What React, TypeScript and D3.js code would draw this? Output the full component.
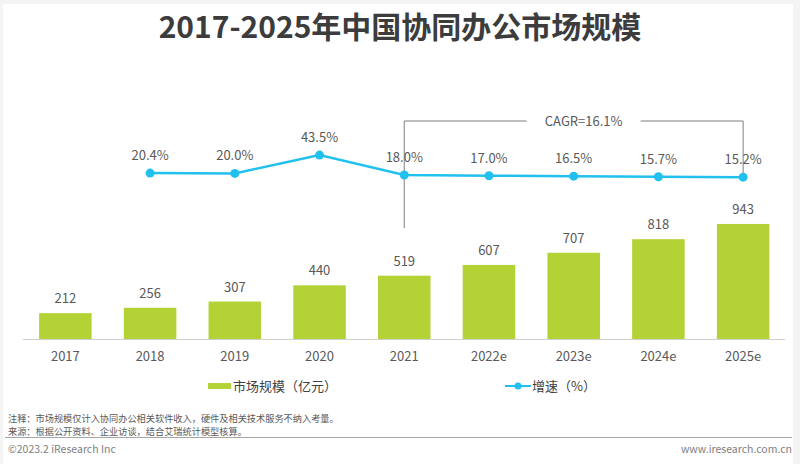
import React from "react";
import * as d3 from "d3";

const categories = ["2017", "2018", "2019", "2020", "2021", "2022e", "2023e", "2024e", "2025e"];
const marketSize = [212, 256, 307, 440, 519, 607, 707, 818, 943];
const growth = [20.4, 20.0, 43.5, 18.0, 17.0, 16.5, 15.7, 15.2];
const growthLabels = ["20.4%", "20.0%", "43.5%", "18.0%", "17.0%", "16.5%", "15.7%", "15.2%"];
const growthCats = categories.slice(1);
const cagrText = "CAGR=16.1%";
const cagrFrom = "2021";
const cagrTo = "2025e";
const title = "2017-2025年中国协同办公市场规模";
const legendBar = "市场规模（亿元）";
const legendLine = "增速（%）";
const note1 = "注释：市场规模仅计入协同办公相关软件收入，硬件及相关技术服务不纳入考量。";
const note2 = "来源：根据公开资料、企业访谈，结合艾瑞统计模型核算。";
const footerLeft = "©2023.2 iResearch Inc";
const footerRight = "www.iresearch.com.cn";

const W = 800;
const H = 464;
const FONT = "'Noto Sans CJK SC', 'Noto Sans', sans-serif";
const GREEN = "#b3d236";
const BLUE = "#22c0ee";
const TEXT = "#595959";

export default function App() {
  const x = d3.scaleBand<string>().domain(categories).range([23, 785.5]).paddingInner(0.38).paddingOuter(0.19);
  const y = d3.scaleLinear().domain([0, 1000]).range([339, 217]);
  const yl = d3.scaleLinear().domain([0, 50]).range([189, 150]);
  const cx = (c: string) => (x(c) as number) + x.bandwidth() / 2;

  const line = d3
    .line<number>()
    .x((_, i) => cx(growthCats[i]))
    .y((d) => yl(d));

  const bx1 = cx(cagrFrom);
  const bx2 = cx(cagrTo);
  const bTop = 121;
  const midX = (bx1 + bx2) / 2 + 10;
  const gapHalf = 57;

  return (
    <svg width={W} height={H} style={{ display: "block", position: "absolute", left: 0, top: 0 }} fontFamily={FONT}>
      <rect x={0} y={0} width={W} height={H} fill="#f4f4f4" />
      <rect x={3} y={4} width={790} height={H} fill="#ffffff" />
      <text x={400} y={38} textAnchor="middle" fontSize={30} fontWeight={700} fill="#3c3c3c">
        {title}
      </text>

      {/* bars */}
      {marketSize.map((v, i) => (
        <g key={categories[i]}>
          <rect x={x(categories[i])} y={y(v)} width={x.bandwidth()} height={y(0) - y(v)} fill={GREEN} />
          <text x={cx(categories[i])} y={y(v) - 10} textAnchor="middle" fontSize={13} fill={TEXT}>
            {v}
          </text>
          <text x={cx(categories[i])} y={361} textAnchor="middle" fontSize={13} fill={TEXT}>
            {categories[i]}
          </text>
        </g>
      ))}
      <line x1={23} x2={785} y1={339.5} y2={339.5} stroke="#cfcfcf" strokeWidth={1} />

      {/* CAGR bracket */}
      <path
        d={`M${bx1},228 V${bTop} H${midX - gapHalf} M${midX + gapHalf},${bTop} H${bx2} V${yl(growth[growth.length - 1])}`}
        fill="none"
        stroke="#7f7f7f"
        strokeWidth={1}
      />
      <text x={midX} y={126} textAnchor="middle" fontSize={13} fill={TEXT}>
        {cagrText}
      </text>

      {/* line */}
      <path d={line(growth) || ""} fill="none" stroke={BLUE} strokeWidth={2.5} />
      {growth.map((v, i) => (
        <g key={growthCats[i]}>
          <circle cx={cx(growthCats[i])} cy={yl(v)} r={4.5} fill={BLUE} />
          <text x={cx(growthCats[i])} y={yl(v) - 13} textAnchor="middle" fontSize={13} fill={TEXT}>
            {growthLabels[i]}
          </text>
        </g>
      ))}

      {/* legend */}
      <rect x={208} y={383} width={23} height={6} fill={GREEN} />
      <text x={233} y={391} fontSize={13} fill="#404040">
        {legendBar}
      </text>
      <line x1={505} x2={531} y1={386} y2={386} stroke={BLUE} strokeWidth={2} />
      <circle cx={518} cy={386} r={3.5} fill={BLUE} />
      <text x={532} y={391} fontSize={13} fill="#404040">
        {legendLine}
      </text>

      {/* notes */}
      <text x={8} y={422} fontSize={9.2} fill={TEXT}>
        {note1}
      </text>
      <text x={8} y={435} fontSize={9.2} fill={TEXT}>
        {note2}
      </text>
      <line x1={5} x2={792} y1={437.5} y2={437.5} stroke="#a6a6a6" strokeWidth={1} />
      <text x={8} y={453} fontSize={10.5} fill="#808080">
        {footerLeft}
      </text>
      <text x={792} y={453} textAnchor="end" fontSize={10.5} fill="#808080">
        {footerRight}
      </text>
    </svg>
  );
}
